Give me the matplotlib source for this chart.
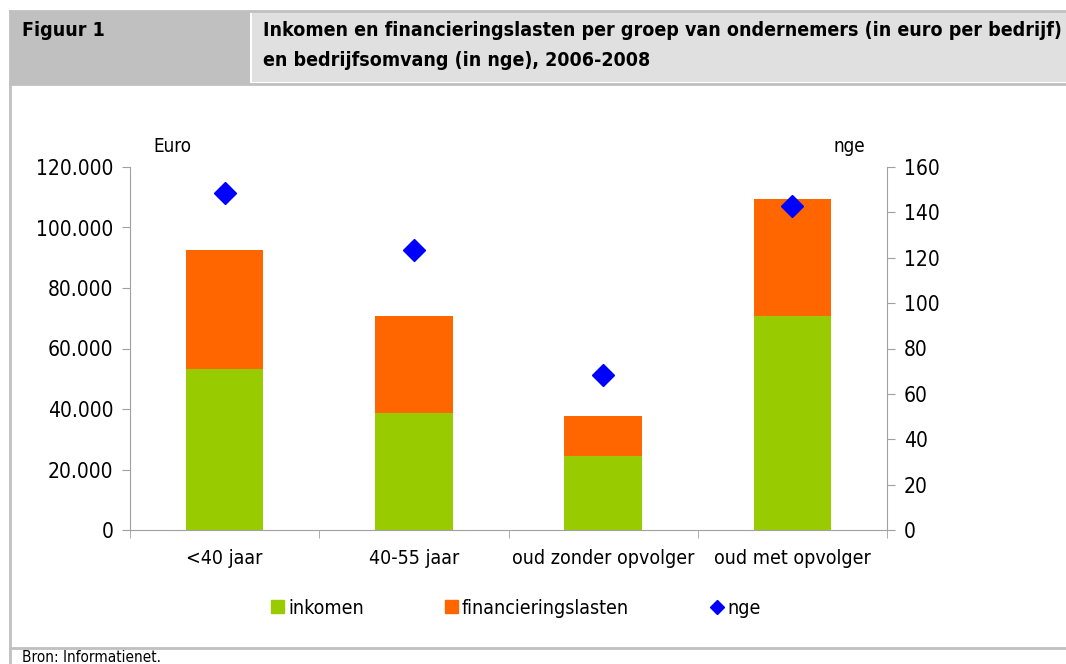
import matplotlib
matplotlib.use("Agg")
import matplotlib.pyplot as plt
from matplotlib.patches import Rectangle, Patch
from matplotlib.lines import Line2D
from matplotlib.ticker import FuncFormatter, MultipleLocator, FixedLocator

plt.rcParams['font.family'] = ['DejaVu Sans']
plt.rcParams['font.stretch'] = 'condensed'

categories = ["<40 jaar", "40-55 jaar", "oud zonder opvolger", "oud met opvolger"]
inkomen = [53200, 38700, 24500, 70700]
financieringslasten = [39400, 32000, 13200, 38700]
nge = [148.5, 123.4, 68.3, 142.8]

W, H = 1066, 664
fig = plt.figure(figsize=(W / 100, H / 100), dpi=100)

def fx(x):
    return x / W

def fy(y):
    return 1 - y / H

# header and frame
fig.add_artist(Rectangle((fx(10), fy(84)), fx(240), 72 / H, transform=fig.transFigure,
                         facecolor="#c0c0c0", edgecolor="none"))
fig.add_artist(Rectangle((fx(252), fy(82)), fx(814), 70 / H, transform=fig.transFigure,
                         facecolor="#e0e0e0", edgecolor="none"))
fig.add_artist(Line2D([fx(10), 1], [fy(11), fy(11)], transform=fig.transFigure, color="#c0c0c0", lw=2))
fig.add_artist(Line2D([fx(10), 1], [fy(84), fy(84)], transform=fig.transFigure, color="#c0c0c0", lw=2))
fig.add_artist(Line2D([fx(10), fx(10)], [fy(11), 0], transform=fig.transFigure, color="#c0c0c0", lw=2))
fig.add_artist(Line2D([fx(10), 1], [fy(648), fy(648)], transform=fig.transFigure, color="#c0c0c0", lw=2))

fig.text(fx(22), fy(31), "Figuur 1", fontsize=14, fontweight="bold", va="center")
fig.text(fx(263), fy(31), "Inkomen en financieringslasten per groep van ondernemers (in euro per bedrijf)",
         fontsize=14, fontweight="bold", va="center")
fig.text(fx(263), fy(60), "en bedrijfsomvang (in nge), 2006-2008", fontsize=14, fontweight="bold", va="center")
fig.text(fx(22), fy(657), "Bron: Informatienet.", fontsize=11, va="center")

ax = fig.add_axes([fx(130), fy(530), fx(757), 363 / H])
x = list(range(len(categories)))
ax.bar(x, inkomen, width=0.41, color="#99cc00", label="inkomen")
ax.bar(x, financieringslasten, width=0.41, bottom=inkomen, color="#ff6600", label="financieringslasten")
ax.set_xlim(-0.5, 3.5)
ax.set_ylim(0, 120000)
ax.yaxis.set_major_locator(MultipleLocator(20000))
ax.yaxis.set_major_formatter(FuncFormatter(lambda v, p: f"{int(v):,}".replace(",", ".")))
ax.set_xticks(x)
ax.set_xticklabels(categories)
ax.xaxis.set_minor_locator(FixedLocator([-0.5, 0.5, 1.5, 2.5, 3.5]))
ax.tick_params(axis="x", which="major", length=0, labelsize=14, pad=14)
ax.tick_params(axis="x", which="minor", length=6, color="#a0a0a0")
ax.tick_params(axis="y", length=6, color="#a0a0a0", labelsize=15, pad=6)
for s in ["top", "right"]:
    ax.spines[s].set_visible(False)
ax.spines["left"].set_color("#a0a0a0")
ax.spines["bottom"].set_color("#a0a0a0")

ax2 = ax.twinx()
ax2.plot(x, nge, linestyle="none", marker="D", markersize=11, color="#0000ff", label="nge")
ax2.set_ylim(0, 160)
ax2.yaxis.set_major_locator(MultipleLocator(20))
ax2.tick_params(axis="y", length=6, color="#a0a0a0", labelsize=15, pad=6)
for s in ["top", "left", "bottom"]:
    ax2.spines[s].set_visible(False)
ax2.spines["right"].set_color("#a0a0a0")

fig.text(fx(153), fy(147), "Euro", fontsize=13.5, va="center")
fig.text(fx(833), fy(147), "nge", fontsize=13.5, va="center")

handles = [Patch(color="#99cc00"), Patch(color="#ff6600"),
           Line2D([], [], linestyle="none", marker="D", markersize=7, color="#0000ff")]
fig.legend(handles, ["inkomen", "financieringslasten", "nge"], loc="center",
           bbox_to_anchor=(fx(516), fy(608)), ncol=3, frameon=False, fontsize=14,
           handlelength=0.65, handleheight=0.65, handletextpad=0.2, columnspacing=4.2)

fig.savefig("out.png", dpi=100)
